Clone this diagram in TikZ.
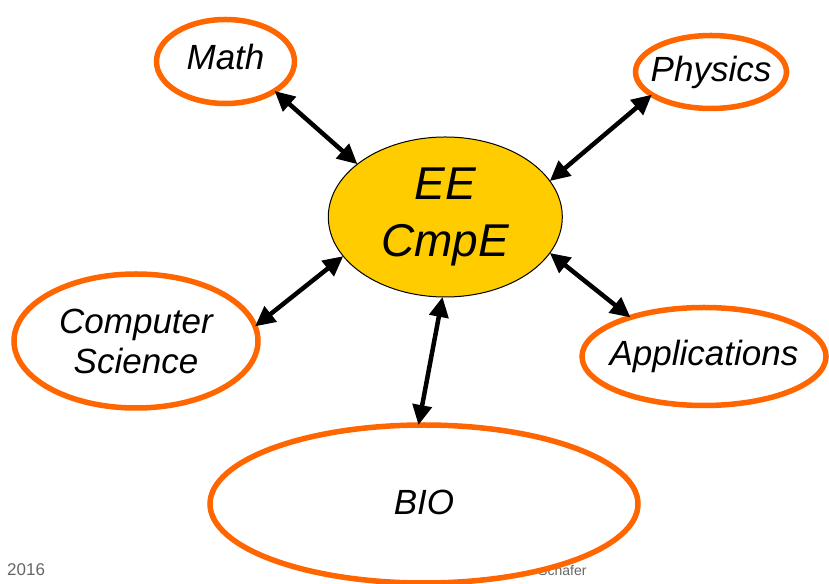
\documentclass[tikz,border=0pt]{standalone}
\usepackage{fontspec}
\setmainfont{Liberation Sans}
\usetikzlibrary{shapes.geometric,arrows.meta}

\definecolor{ringorange}{HTML}{FF6600}
\definecolor{coreyellow}{HTML}{FFCC00}
\definecolor{footgray}{HTML}{666666}

\tikzset{
  field/.style={ellipse, draw=ringorange, line width=5.5pt, fill=white,
    inner sep=0pt, outer sep=0pt},
  core/.style={ellipse, draw=black, line width=1pt, fill=coreyellow,
    inner sep=0pt, outer sep=0pt},
  lbl/.style={inner sep=0pt, align=center,
    font=\fontsize{35}{40}\selectfont\itshape},
  biglbl/.style={inner sep=0pt, align=center,
    font=\fontsize{46}{57}\selectfont\itshape},
  link/.style={line width=4.5pt, {Triangle[length=20pt,width=19pt]}-{Triangle[length=20pt,width=19pt]}},
  foot/.style={inner sep=0pt, text=footgray, anchor=base west}
}

\begin{document}
\begin{tikzpicture}[x=1pt,y=1pt]
  \fill[white] (0,0) rectangle (829,583);
  \useasboundingbox (0,0) rectangle (829,583);

  % footer texts (the BIO ring is drawn over part of the second one)
  \node[foot, font=\fontsize{17}{17}\selectfont] (year) at (7,7) {2016};
  \node[foot, font=\fontsize{14}{14}\selectfont] (author) at (538,7) {Schafer};

  % central field
  \node[core, minimum width=234pt, minimum height=160pt] (ee) at (445.3,366) {};
  \node[biglbl] (eetxt) at (ee.center) {EE\\CmpE};

  % surrounding fields
  \node[field, minimum width=138pt, minimum height=84pt] (math) at (225.5,521.5) {};
  \node[lbl] (mathtxt) at ([yshift=4.5pt]math.center) {Math};

  \node[field, minimum width=151pt, minimum height=73pt] (phys) at (711,511) {};
  \node[lbl] (phystxt) at (phys.center) {Physics};

  \node[field, minimum width=244pt, minimum height=134pt] (cs) at (136,242) {};
  \node[lbl] (cstxt) at (cs.center) {Computer\\Science};

  \node[field, minimum width=244pt, minimum height=98pt] (app) at (704,226.5) {};
  \node[lbl] (apptxt) at (app.center) {Applications};

  \node[field, minimum width=428pt, minimum height=158pt] (bio) at (424,79) {};
  \node[lbl] (biotxt) at ([yshift=2pt]bio.center) {BIO};

  % two-way links
  \draw[link] (math.-31)  -- (ee.149);
  \draw[link] (phys.-159) -- (ee.19);
  \draw[link] (cs.7)      -- (ee.201);
  \draw[link] (app.152)   -- (ee.-19);
  \draw[link] (bio.94)    -- (ee.268.6);
\end{tikzpicture}
\end{document}
